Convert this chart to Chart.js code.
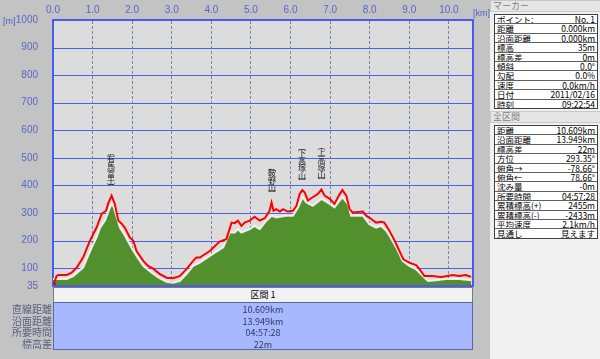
<!DOCTYPE html>
<html><head><meta charset="utf-8">
<script src="https://cdn.jsdelivr.net/npm/chart.js@4"></script>
<style>
html,body{margin:0;padding:0;}
body{width:600px;height:359px;background:#c3c3c3;position:relative;overflow:hidden;font-family:"Noto Sans CJK JP","Noto Sans",sans-serif;}
#c{position:absolute;left:0;top:0;}
.abs{position:absolute;}
.unit{color:#5060c8;font-size:9px;font-family:"Liberation Sans",sans-serif;}
#rp{left:490px;top:0;width:110px;height:359px;background:#f0f0f0;}
.hd{position:absolute;left:0;width:108px;height:10px;background:#e6e6e6;border:1px solid #c8c8c8;color:#808080;font-size:9px;line-height:10px;padding-left:2px;}
.tb{position:absolute;left:4px;width:102px;background:#fff;border:1px solid #404040;}
.row{height:8.4px;border-bottom:1px solid #606060;display:flex;justify-content:space-between;font-size:8.5px;line-height:8.4px;padding:0 2px;color:#000;white-space:nowrap;overflow:hidden;}
.row:last-child{border-bottom:none;}
#sechd{left:53px;top:287px;width:418px;height:14px;background:#f2f2f2;border:1px solid #7a7a7a;text-align:center;font-size:9px;line-height:14px;color:#000;}
#secbox{left:53px;top:302px;width:418px;height:45px;background:#a8b8ff;border:1px solid #5868a8;text-align:center;font-size:9px;line-height:11.5px;color:#303860;padding-top:1px;}
#seclbl{left:0;top:303px;width:52px;text-align:right;font-size:10px;line-height:11.5px;color:#586080;}
</style></head>
<body>
<canvas id="c" width="600" height="359"></canvas>
<div class="abs unit" style="left:3px;top:16px;">[m]</div>
<div class="abs unit" style="left:473px;top:8px;">[km]</div>
<div id="sechd" class="abs">区間 1</div>
<div id="secbox" class="abs"><div>10.609km</div><div>13.949km</div><div>04:57:28</div><div>22m</div></div>
<div id="seclbl" class="abs"><div>直線距離</div><div>沿面距離</div><div>所要時間</div><div>標高差</div></div>
<div id="rp" class="abs">
  <div class="hd" style="top:0;">マーカー</div>
  <div class="tb" id="t1" style="top:14px;"></div>
  <div class="hd" style="top:111px;">全区間</div>
  <div class="tb" id="t2" style="top:125px;"></div>
</div>
<script>
// ---- data ----
const redDist = [0.00,0.09,0.13,0.35,0.47,0.60,0.76,0.93,1.10,1.23,1.34,1.39,1.48,1.56,1.65,1.73,1.82,1.94,2.03,2.11,2.28,2.40,2.53,2.70,2.87,3.03,3.20,3.37,3.54,3.62,3.71,3.96,4.21,4.38,4.51,4.59,4.67,4.76,4.84,4.97,5.09,5.22,5.35,5.47,5.52,5.57,5.64,5.73,5.81,5.93,6.06,6.15,6.23,6.30,6.36,6.44,6.56,6.69,6.78,6.86,6.99,7.11,7.22,7.31,7.41,7.49,7.57,7.83,7.91,8.04,8.16,8.29,8.37,8.50,8.63,8.75,8.85,9.00,9.17,9.26,9.38,9.58,9.80,9.93,10.10,10.26,10.43,10.56];
const redElev = [35,71,75,75,83,102,138,199,247,297,308,333,363,333,272,262,245,211,199,162,126,108,98,78,65,63,71,96,126,138,138,162,196,205,265,263,272,253,265,272,286,272,281,308,338,308,314,305,314,305,308,326,369,383,374,345,357,369,385,363,351,333,363,383,363,314,302,305,290,278,265,268,265,235,199,162,132,120,111,96,71,71,68,70,75,71,75,68];
const greenDist = [0.00,0.35,0.51,0.76,0.98,1.10,1.19,1.31,1.44,1.50,1.56,1.69,1.82,1.98,2.11,2.28,2.49,2.70,2.87,3.03,3.20,3.37,3.54,3.71,3.96,4.30,4.46,4.59,4.67,4.76,4.97,5.09,5.22,5.39,5.52,5.64,5.89,6.06,6.19,6.30,6.40,6.56,6.78,6.99,7.11,7.31,7.45,7.53,7.83,7.99,8.16,8.29,8.42,8.50,8.67,8.83,9.00,9.17,9.34,9.47,9.68,9.93,10.26,10.56];
const greenElev = [60,60,71,102,175,211,247,272,320,335,308,247,217,175,144,108,83,63,50,47,53,78,108,120,144,175,229,229,241,229,241,253,241,272,290,284,290,290,320,357,338,326,351,333,320,357,333,290,290,259,247,253,235,217,175,126,108,96,71,53,56,60,60,56];
const xTicks = [0,1,2,3,4,5,6,7,8,9,10];
const yTicks = [35,100,200,300,400,500,600,700,800,900,1000];
const peakNames = ['(有馬富士)','(鞍野山)','(下高塚山)','(上高塚山)'];
const peakDist = [1.465,5.53,6.29,6.78];
const peakElev = [363,338,383,385];
const markerRows = [['ポイント:','No. 1'],['距離','0.000km'],['沿面距離','0.000km'],['標高','35m'],['標高差','0m'],['傾斜','0.0°'],['勾配','0.0%'],['速度','0.0km/h'],['日付','2011/02/16'],['時刻','09:22:54']];
const totalRows = [['距離','10.609km'],['沿面距離','13.949km'],['標高差','22m'],['方位','293.35°'],['俯角→','-78.66°'],['俯角←','78.66°'],['沈み量','-0m'],['所要時間','04:57:28'],['累積標高(+)','2455m'],['累積標高(-)','-2433m'],['平均速度','2.1km/h'],['見通し','見えます']];

function fillTable(id, rows){
  const el = document.getElementById(id);
  rows.forEach(r=>{
    const d=document.createElement('div'); d.className='row';
    const a=document.createElement('span'); a.textContent=r[0];
    const b=document.createElement('span'); b.textContent=r[1];
    d.appendChild(a); d.appendChild(b); el.appendChild(d);
  });
}
fillTable('t1', markerRows);
fillTable('t2', totalRows);

const bgPlugin = {
  id:'bg',
  beforeDraw(chart){
    const {ctx, chartArea:a} = chart;
    ctx.save(); ctx.fillStyle='#dcdcdc';
    ctx.fillRect(a.left,a.top,a.right-a.left,a.bottom-a.top);
    ctx.restore();
  },
  beforeDatasetsDraw(chart){
    const {ctx, chartArea:a, scales} = chart;
    ctx.save();
    ctx.strokeStyle = '#4c5ef6'; ctx.lineWidth = 1;
    yTicks.forEach(v=>{
      const y = Math.round(scales.y.getPixelForValue(v)) + 0.5;
      ctx.beginPath(); ctx.moveTo(a.left, y); ctx.lineTo(a.right, y); ctx.stroke();
    });
    ctx.restore();
  },
  afterDraw(chart){
    const {ctx, chartArea:a} = chart;
    ctx.save(); ctx.strokeStyle='#4a5cf0'; ctx.lineWidth=2;
    ctx.beginPath();
    ctx.moveTo(a.left,a.top); ctx.lineTo(a.right,a.top); ctx.lineTo(a.right,a.bottom); ctx.lineTo(a.left,a.bottom);
    ctx.stroke(); ctx.restore();
  }
};
const peakPlugin = {
  id:'peaks',
  afterDatasetsDraw(chart){
    const ctx = chart.ctx, xs = chart.scales.x, ys = chart.scales.y;
    ctx.save();
    ctx.font = '8px "Noto Sans CJK JP"';
    ctx.fillStyle = '#181818';
    ctx.textAlign = 'center'; ctx.textBaseline = 'middle';
    peakNames.forEach((name,i)=>{
      const x = xs.getPixelForValue(peakDist[i]);
      const yb = ys.getPixelForValue(peakElev[i]) - 6;
      const chars = Array.from(name);
      const h = chars.map(c => (c==='('||c===')') ? 4.5 : 7.6);
      let y = yb - h.reduce((s,v)=>s+v,0);
      chars.forEach((c,j)=>{
        const g = c==='(' ? '︵' : (c===')' ? '︶' : c);
        ctx.fillText(g, x, y + h[j]/2);
        y += h[j];
      });
    });
    ctx.restore();
  }
};

new Chart(document.getElementById('c'), {
  type:'line',
  data:{datasets:[
    {label:'marker', data:[{x:redDist[0], y:redElev[0]}], showLine:false, pointRadius:3, pointBackgroundColor:'#c03030', pointBorderColor:'#602020', pointBorderWidth:1, order:0},
    {label:'elev', data:redDist.map((d,i)=>({x:d,y:redElev[i]})), borderColor:'#ff0000', borderWidth:2, pointRadius:0, fill:false, tension:0, order:1},
    {label:'ground', data:greenDist.map((d,i)=>({x:d,y:greenElev[i]})), borderColor:'rgba(245,245,245,0.9)', borderWidth:2, backgroundColor:'#51902d', pointRadius:0, fill:'start', tension:0, order:2}
  ]},
  options:{
    responsive:false, animation:false, events:[],
    layout:{padding:{left:0,top:0,right:127,bottom:73}},
    plugins:{legend:{display:false}, tooltip:{enabled:false}},
    scales:{
      x:{type:'linear', position:'top', min:0, max:10.609,
        afterBuildTicks(s){ s.ticks = xTicks.map(v=>({value:v})); },
        afterFit(s){ s.height = 20; },
        ticks:{color:'#5866c8', font:{size:10, family:'Liberation Sans'}, padding:4, maxRotation:0, autoSkip:false, callback:v=>Number(v).toFixed(1)},
        grid:{color:'#7a82b0', lineWidth:1, drawTicks:false},
        border:{display:true, color:'#4a5cf0', width:2, dash:[3,2]}
      },
      y:{type:'linear', min:35, max:1000,
        afterBuildTicks(s){ s.ticks = yTicks.map(v=>({value:v})); },
        afterFit(s){ s.width = 53; },
        ticks:{color:'#5866c8', font:{size:10, family:'Liberation Sans'}, padding:7, autoSkip:false, callback:v=>String(v)},
        grid:{display:false},
        border:{display:true, color:'#4a5cf0', width:2}
      }
    }
  },
  plugins:[bgPlugin, peakPlugin]
});
</script>
</body></html>
